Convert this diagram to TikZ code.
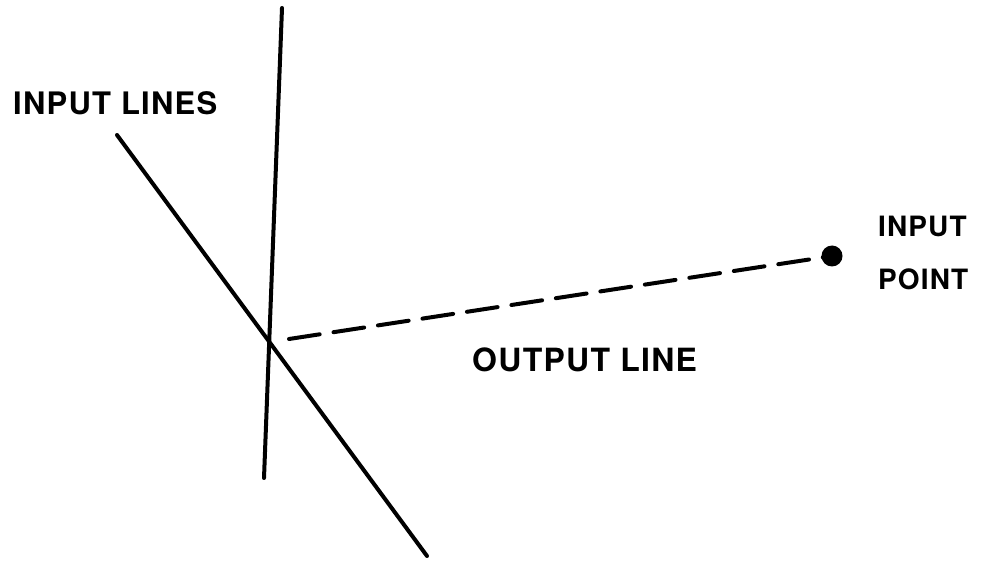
\documentclass[tikz,border=0pt]{standalone}
\usepackage{fontspec}
\newfontfamily\lettering[LetterSpace=4,UprightFont=*-Bold]{TeX Gyre Heros}
\usetikzlibrary{arrows.meta}
\tikzset{
  every picture/.style={line join=round, line cap=round, >=Stealth},
  pen/.style={line width=4pt},
  label/.style={inner sep=0pt, anchor=base west},
}

\begin{document}
\begin{tikzpicture}[x=1pt,y=-1pt]
\fill[white] (0,0) rectangle (983,561);
\useasboundingbox (0,0) rectangle (983,561);
% the two input lines
\coordinate (vtop) at (282,8);
\coordinate (vbot) at (264,478);
\coordinate (dtop) at (117,135);
\coordinate (dbot) at (427,556);
\draw[pen] (vtop)--(vbot);
\draw[pen] (dtop)--(dbot);
% output line to the input point
\coordinate (ostart) at (289,339);
\node[circle,fill,inner sep=0pt,minimum size=21pt] (ipt) at (832,256){};
\draw[pen,dash pattern=on 31pt off 14pt] (ostart)--(ipt.center);
\node[label,font=\lettering\fontsize{31}{31}\selectfont] (inlines) at (13,115){INPUT LINES};
\node[label,font=\lettering\fontsize{32}{32}\selectfont] (outline) at (472,372){OUTPUT LINE};
\node[label,font=\lettering\fontsize{28}{28}\selectfont] (inpt) at (878,237){INPUT};
\node[label,font=\lettering\fontsize{28}{28}\selectfont] (ptlbl) at (878,290){POINT};
\end{tikzpicture}
\end{document}
